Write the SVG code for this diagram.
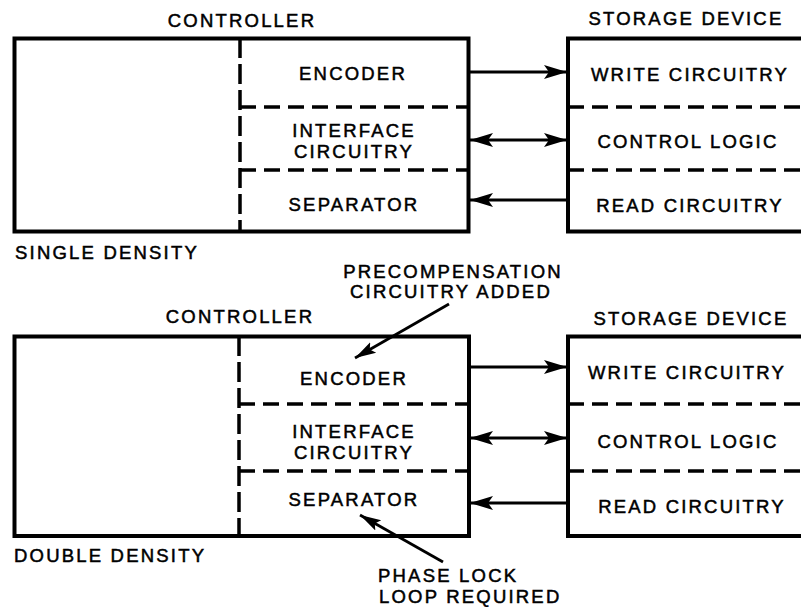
<svg xmlns="http://www.w3.org/2000/svg" width="801" height="607" viewBox="0 0 801 607">
<defs>
<style>
text{font-family:"Liberation Sans",Arial,sans-serif;font-size:18.5px;letter-spacing:2.2px;fill:#000;stroke:#000;stroke-width:0.5}
.c{text-anchor:middle}
.box{fill:none;stroke:#000;stroke-width:4}
.dash{fill:none;stroke:#000;stroke-width:3.5;stroke-dasharray:16 8}
.vdash{fill:none;stroke:#000;stroke-width:3.5;stroke-dasharray:20 6}
.arr{fill:none;stroke:#000;stroke-width:2.8}
.lead{fill:none;stroke:#000;stroke-width:2.8}
</style>
<marker id="ah" markerUnits="userSpaceOnUse" markerWidth="24" markerHeight="16" refX="23" refY="8" orient="auto-start-reverse">
<path d="M0,1 L23,8 L0,15 L5,8 Z" fill="#000"/>
</marker>
<marker id="lh" markerUnits="userSpaceOnUse" markerWidth="22" markerHeight="14" refX="21" refY="7" orient="auto">
<path d="M0,1 L21,7 L0,13 L4,7 Z" fill="#000"/>
</marker>
</defs>

<g id="single-controller">
<text class="c" x="242" y="27">CONTROLLER</text>
<rect class="box" x="14.5" y="38.5" width="454" height="193"/>
<line class="vdash" x1="240" y1="38" x2="240" y2="232"/>
<line class="dash" x1="240" y1="107" x2="468" y2="107"/>
<line class="dash" x1="240" y1="170" x2="468" y2="170"/>
<text class="c" x="353" y="80">ENCODER</text>
<text class="c" x="354" y="137">INTERFACE</text>
<text class="c" x="354" y="158">CIRCUITRY</text>
<text class="c" x="354" y="211">SEPARATOR</text>
<text x="15" y="259">SINGLE DENSITY</text>
</g>

<g id="single-storage">
<text class="c" x="686" y="25">STORAGE DEVICE</text>
<rect class="box" x="568" y="38.5" width="245" height="193"/>
<line class="dash" x1="568" y1="107" x2="801" y2="107"/>
<line class="dash" x1="568" y1="170" x2="801" y2="170"/>
<text class="c" x="690" y="81">WRITE CIRCUITRY</text>
<text class="c" x="688" y="148">CONTROL LOGIC</text>
<text class="c" x="690" y="212">READ CIRCUITRY</text>
</g>

<g id="double-controller">
<text class="c" x="240" y="323">CONTROLLER</text>
<rect class="box" x="14.5" y="336.5" width="454.5" height="199.5"/>
<line class="vdash" x1="239" y1="336" x2="239" y2="536"/>
<line class="dash" x1="239" y1="404" x2="469" y2="404"/>
<line class="dash" x1="239" y1="471" x2="469" y2="471"/>
<text class="c" x="354" y="385">ENCODER</text>
<text class="c" x="354" y="438">INTERFACE</text>
<text class="c" x="354" y="459">CIRCUITRY</text>
<text class="c" x="354" y="506">SEPARATOR</text>
<text x="14" y="562">DOUBLE DENSITY</text>
</g>

<g id="double-storage">
<text class="c" x="691" y="325">STORAGE DEVICE</text>
<rect class="box" x="568" y="336.5" width="245" height="199.5"/>
<line class="dash" x1="568" y1="404" x2="801" y2="404"/>
<line class="dash" x1="568" y1="471" x2="801" y2="471"/>
<text class="c" x="687" y="379">WRITE CIRCUITRY</text>
<text class="c" x="688" y="448">CONTROL LOGIC</text>
<text class="c" x="692" y="513">READ CIRCUITRY</text>
</g>

<g id="precomp-note">
<text class="c" x="453" y="278">PRECOMPENSATION</text>
<text class="c" x="451" y="298">CIRCUITRY ADDED</text>
</g>

<g id="pll-note">
<text x="378" y="582">PHASE LOCK</text>
<text x="379" y="603">LOOP REQUIRED</text>
</g>

<g id="connectors">
<line class="arr" x1="470" y1="72" x2="567" y2="72" marker-end="url(#ah)"/>
<line class="arr" x1="470" y1="140" x2="567" y2="140" marker-start="url(#ah)" marker-end="url(#ah)"/>
<line class="arr" x1="567" y1="200" x2="470" y2="200" marker-end="url(#ah)"/>
<line class="arr" x1="470" y1="367" x2="567" y2="367" marker-end="url(#ah)"/>
<line class="arr" x1="470" y1="438" x2="567" y2="438" marker-start="url(#ah)" marker-end="url(#ah)"/>
<line class="arr" x1="567" y1="503" x2="470" y2="503" marker-end="url(#ah)"/>
<line class="lead" x1="449" y1="304" x2="355" y2="358" marker-end="url(#lh)"/>
<line class="lead" x1="443" y1="562" x2="360" y2="515" marker-end="url(#lh)"/>
</g>
</svg>
